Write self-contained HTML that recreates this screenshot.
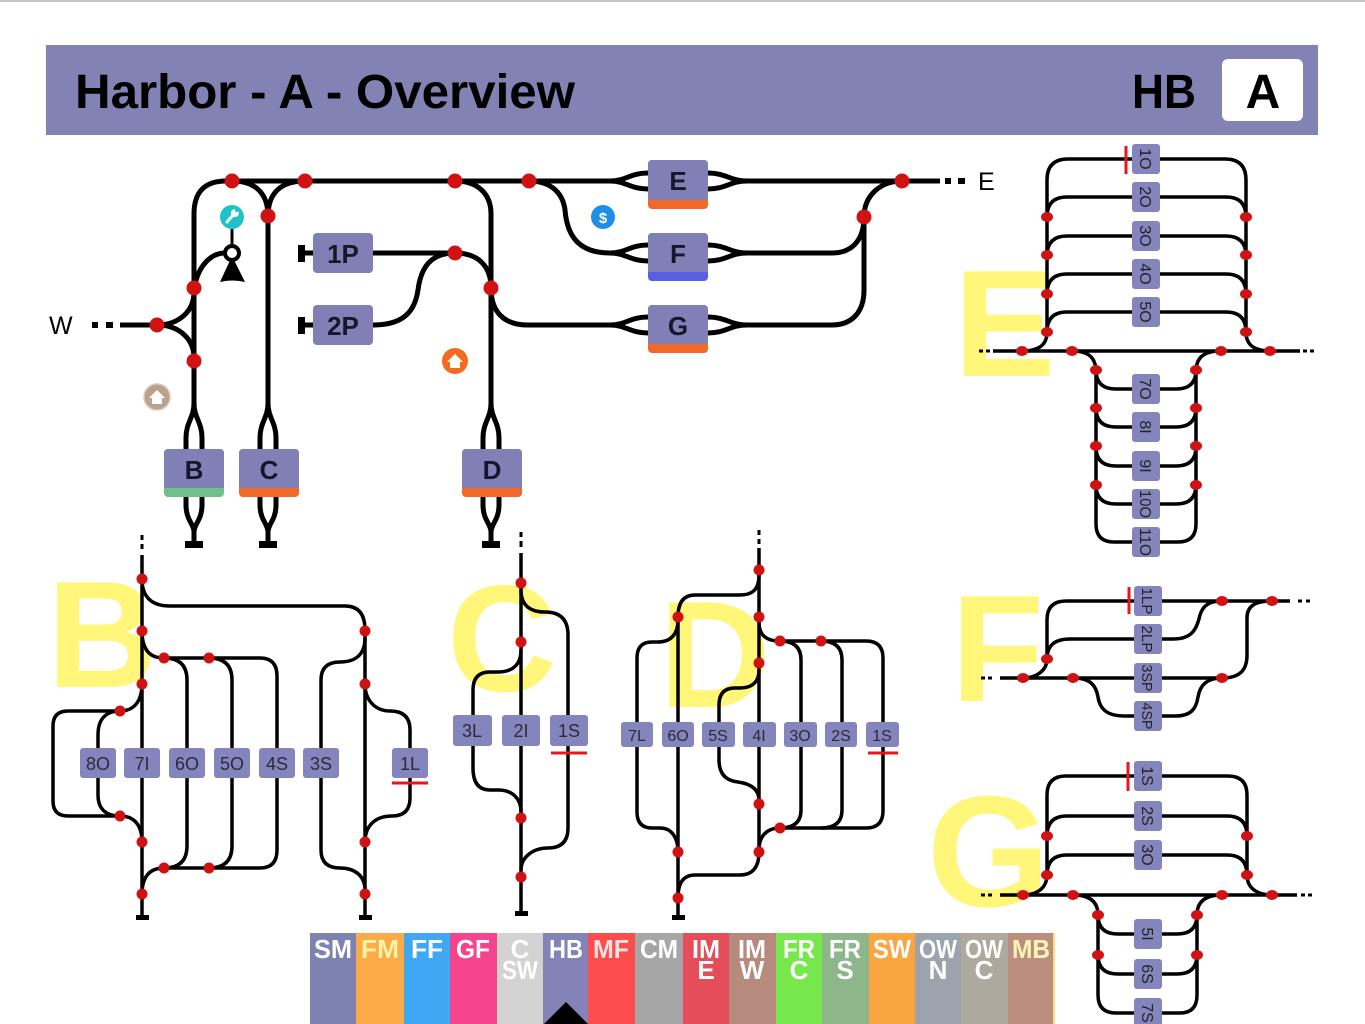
<!DOCTYPE html>
<html><head><meta charset="utf-8">
<style>
html,body{margin:0;padding:0;background:#fff;}
svg{display:block;}
text{font-family:"Liberation Sans",sans-serif;}
</style></head><body>
<svg width="1365" height="1024" viewBox="0 0 1365 1024" xmlns="http://www.w3.org/2000/svg">
<rect x="0" y="0" width="1365" height="1024" fill="#fff"/>
<rect x="0" y="0" width="1365" height="2" fill="#c8c8c8"/>

<!-- Header -->
<rect x="46" y="45" width="1272" height="90" fill="#8282b4"/>
<text x="75" y="108" font-size="48" font-weight="bold" fill="#000" textLength="500" lengthAdjust="spacingAndGlyphs">Harbor - A - Overview</text>
<text x="1132" y="108" font-size="48" font-weight="bold" fill="#000" textLength="64" lengthAdjust="spacingAndGlyphs">HB</text>
<rect x="1222" y="59" width="81" height="62" rx="6" fill="#fff"/>
<text x="1263" y="108" text-anchor="middle" font-size="48" font-weight="bold" fill="#000">A</text>

<!-- Yellow big letters -->
<g fill="#fff67a" font-weight="bold" font-size="152">
<text x="954" y="376">E</text>
<text x="47" y="687">B</text>
<text x="447" y="691">C</text>
<text x="659" y="707" textLength="112" lengthAdjust="spacingAndGlyphs">D</text>
<text x="951" y="701">F</text>
<text x="927" y="906" font-size="158">G</text>
</g>

<!-- ============ MAIN DIAGRAM ============ -->
<g stroke="#000" stroke-width="5" fill="none" stroke-linecap="butt">
<path d="M194,403 V214 Q194,181 226,181 H610"/>
<path d="M610,181 C626,181 630,173 648,173"/>
<path d="M610,181 C626,181 630,189 648,189"/>
<path d="M708,173 C726,173 730,181 747,181 H940"/>
<path d="M708,189 C726,189 730,181 747,181"/>
<path d="M232,181 C256,181 268,194 268,216 V403"/>
<path d="M305,181 C280,181 268,194 268,216"/>
<path d="M455,181 C478,181 491,194 491,214 V403"/>
<path d="M529,181 C552,181 563,194 565,210 C567,235 578,253 610,253"/>
<path d="M610,253 C626,253 630,245 648,245"/>
<path d="M610,253 C626,253 630,261 648,261"/>
<path d="M708,245 C726,245 730,253 747,253"/>
<path d="M708,261 C726,261 730,253 747,253"/>
<path d="M747,253 H832 C852,253 864,240 864,217"/>
<path d="M864,217 C864,196 880,181 902,181"/>
<path d="M864,217 V290 C864,312 852,325 832,325 H747"/>
<path d="M610,325 C626,325 630,317 648,317"/>
<path d="M610,325 C626,325 630,333 648,333"/>
<path d="M708,317 C726,317 730,325 747,325"/>
<path d="M708,333 C726,333 730,325 747,325"/>
<path d="M491,288 C491,310 502,325 528,325 H610"/>
<path d="M373,253 H455"/>
<path d="M455,253 C478,253 491,266 491,288"/>
<path d="M373,325 C405,325 415,310 418,290 C421,266 432,253 455,253"/>
<path d="M120,325 H157"/>
<path d="M157,325 C178,325 194,312 194,292"/>
<path d="M157,325 C178,325 194,338 194,358"/>
<path d="M194,292 C196,268 210,253 225,253"/>
<path d="M305,253 H313"/>
<path d="M305,325 H313"/>
<!-- lenses B C D -->
<path d="M194,403 C194,418 186,422 186,438 V450"/>
<path d="M194,403 C194,418 202,422 202,438 V450"/>
<path d="M186,496 V505 C186,520 194,524 194,532 V543"/>
<path d="M202,496 V505 C202,520 194,524 194,532"/>
<path d="M268,403 C268,418 260,422 260,438 V450"/>
<path d="M268,403 C268,418 276,422 276,438 V450"/>
<path d="M260,496 V505 C260,520 268,524 268,532 V543"/>
<path d="M276,496 V505 C276,520 268,524 268,532"/>
<path d="M491,403 C491,418 483,422 483,438 V450"/>
<path d="M491,403 C491,418 499,422 499,438 V450"/>
<path d="M483,496 V505 C483,520 491,524 491,532 V543"/>
<path d="M499,496 V505 C499,520 491,524 491,532"/>
</g>
<!-- T ends main -->
<rect x="185" y="541" width="18" height="7" fill="#000"/>
<rect x="259" y="541" width="18" height="7" fill="#000"/>
<rect x="482" y="541" width="18" height="7" fill="#000"/>
<!-- bumpers 1P 2P -->
<rect x="298" y="245" width="7" height="17" fill="#000"/>
<rect x="298" y="317" width="7" height="17" fill="#000"/>
<!-- buffer circle -->
<line x1="232" y1="246" x2="232" y2="229" stroke="#000" stroke-width="3"/>
<path d="M232,256 L220,282 Q232,279 245,282 Z" fill="#000"/>
<circle cx="232" cy="253" r="7" fill="#fff" stroke="#000" stroke-width="4"/>
<!-- W / E dashes -->
<rect x="92" y="322" width="6" height="6" fill="#000"/>
<rect x="106" y="322" width="7" height="6" fill="#000"/>
<rect x="945" y="178" width="6" height="6" fill="#000"/>
<rect x="958" y="178" width="7" height="6" fill="#000"/>
<text x="49" y="334" font-size="25" fill="#000">W</text>
<text x="978" y="190" font-size="25" fill="#000">E</text>

<!-- main red dots -->
<g fill="#d01212">
<circle cx="232" cy="181" r="7.5"/><circle cx="305" cy="181" r="7.5"/>
<circle cx="455" cy="181" r="7.5"/><circle cx="529" cy="181" r="7.5"/>
<circle cx="902" cy="181" r="7.5"/><circle cx="268" cy="216" r="7.5"/>
<circle cx="864" cy="217" r="7.5"/><circle cx="455" cy="253" r="7.5"/>
<circle cx="491" cy="288" r="7.5"/><circle cx="194" cy="288" r="7.5"/>
<circle cx="157" cy="325" r="7.5"/><circle cx="194" cy="361" r="7.5"/>
</g>

<!-- main boxes -->
<g font-size="26" font-weight="bold" fill="#16162a" text-anchor="middle">
<rect x="164" y="449" width="60" height="48" rx="4" fill="#70c08c"/><rect x="164" y="449" width="60" height="39" rx="4" fill="#8080b6"/><rect x="164" y="480" width="60" height="8" fill="#8080b6"/>
<text x="194" y="479">B</text>
<rect x="239" y="449" width="60" height="48" rx="4" fill="#f06a2a"/><rect x="239" y="449" width="60" height="39" rx="4" fill="#8080b6"/><rect x="239" y="480" width="60" height="8" fill="#8080b6"/>
<text x="269" y="479">C</text>
<rect x="462" y="449" width="60" height="48" rx="4" fill="#f06a2a"/><rect x="462" y="449" width="60" height="39" rx="4" fill="#8080b6"/><rect x="462" y="480" width="60" height="8" fill="#8080b6"/>
<text x="492" y="479">D</text>
<rect x="648" y="160" width="60" height="49" rx="4" fill="#f06a2a"/><rect x="648" y="160" width="60" height="40" rx="4" fill="#8080b6"/><rect x="648" y="192" width="60" height="8" fill="#8080b6"/>
<text x="678" y="190">E</text>
<rect x="648" y="233" width="60" height="48" rx="4" fill="#5a5ee0"/><rect x="648" y="233" width="60" height="39" rx="4" fill="#8080b6"/><rect x="648" y="264" width="60" height="8" fill="#8080b6"/>
<text x="678" y="263">F</text>
<rect x="648" y="305" width="60" height="48" rx="4" fill="#f06a2a"/><rect x="648" y="305" width="60" height="39" rx="4" fill="#8080b6"/><rect x="648" y="336" width="60" height="8" fill="#8080b6"/>
<text x="678" y="335">G</text>
<rect x="313" y="233" width="60" height="40" rx="4" fill="#8080b6"/>
<text x="343" y="263">1P</text>
<rect x="313" y="305" width="60" height="40" rx="4" fill="#8080b6"/>
<text x="343" y="335">2P</text>
</g>

<!-- icons -->
<circle cx="232" cy="217" r="12" fill="#1ec2c8"/>
<circle cx="235" cy="213" r="4" fill="#fff"/>
<circle cx="237" cy="210" r="2" fill="#1ec2c8"/>
<line x1="234" y1="214" x2="227" y2="222" stroke="#fff" stroke-width="3" stroke-linecap="round"/>
<circle cx="157" cy="397" r="13" fill="#b9a38e" stroke="#d8c9b8" stroke-width="1.5"/>
<polygon points="149,398 157,390 165,398 162,398 162,404 152,404 152,398" fill="#fff"/>
<circle cx="455" cy="361" r="13" fill="#f26b21"/>
<polygon points="447,362 455,354 463,362 460,362 460,368 450,368 450,362" fill="#fff"/>
<circle cx="603" cy="217" r="12" fill="#1f8ee6"/>
<text x="603" y="223" text-anchor="middle" font-size="15" font-weight="bold" fill="#fff">$</text>

<!-- ============ E SECTION ============ -->
<g stroke="#000" stroke-width="3.5" fill="none">
<path d="M1047,336 V180 Q1047,159 1068,159 H1225 Q1246,159 1246,180 V336"/>
<path d="M1047,217 Q1047,197 1067,197 H1226 Q1246,197 1246,217"/>
<path d="M1047,256 Q1047,236 1067,236 H1226 Q1246,236 1246,256"/>
<path d="M1047,294 Q1047,274 1067,274 H1226 Q1246,274 1246,294"/>
<path d="M1047,332 Q1047,312 1067,312 H1226 Q1246,312 1246,332"/>
<path d="M1047,332 C1047,347 1036,351 1022,351"/>
<path d="M1246,332 C1246,347 1257,351 1271,351"/>
<path d="M993,351 H1300"/>
<path d="M1072,351 C1089,351 1096,358 1096,372 V524 Q1096,542 1114,542 H1178 Q1196,542 1196,524 V372 C1196,358 1203,351 1221,351"/>
<path d="M1096,370 Q1096,389 1116,389 H1176 Q1196,389 1196,370"/>
<path d="M1096,408 Q1096,427 1116,427 H1176 Q1196,427 1196,408"/>
<path d="M1096,447 Q1096,466 1116,466 H1176 Q1196,466 1196,447"/>
<path d="M1096,485 Q1096,504 1116,504 H1176 Q1196,504 1196,485"/>
</g>
<g fill="#000">
<rect x="979" y="349.5" width="4" height="3"/><rect x="986" y="349.5" width="4" height="3"/>
<rect x="1303" y="349.5" width="4" height="3"/><rect x="1310" y="349.5" width="4" height="3"/>
</g>
<line x1="1126" y1="146" x2="1126" y2="174" stroke="#e8161b" stroke-width="3"/>
<g fill="#d01212">
<ellipse cx="1047" cy="217" rx="6" ry="5"/><ellipse cx="1047" cy="255" rx="6" ry="5"/><ellipse cx="1047" cy="294" rx="6" ry="5"/><ellipse cx="1047" cy="332" rx="6" ry="5"/>
<ellipse cx="1246" cy="217" rx="6" ry="5"/><ellipse cx="1246" cy="255" rx="6" ry="5"/><ellipse cx="1246" cy="294" rx="6" ry="5"/><ellipse cx="1246" cy="332" rx="6" ry="5"/>
<ellipse cx="1022" cy="351" rx="6" ry="5"/><ellipse cx="1072" cy="351" rx="6" ry="5"/><ellipse cx="1221" cy="351" rx="6" ry="5"/><ellipse cx="1270" cy="351" rx="6" ry="5"/>
<ellipse cx="1096" cy="370" rx="6" ry="5"/><ellipse cx="1096" cy="408" rx="6" ry="5"/><ellipse cx="1096" cy="446" rx="6" ry="5"/><ellipse cx="1096" cy="485" rx="6" ry="5"/>
<ellipse cx="1196" cy="370" rx="6" ry="5"/><ellipse cx="1196" cy="408" rx="6" ry="5"/><ellipse cx="1196" cy="446" rx="6" ry="5"/><ellipse cx="1196" cy="485" rx="6" ry="5"/>
</g>
<g fill="#8585bd">
<rect x="1132" y="144" width="28" height="30" rx="3"/><rect x="1132" y="182" width="28" height="30" rx="3"/>
<rect x="1132" y="221" width="28" height="30" rx="3"/><rect x="1132" y="259" width="28" height="30" rx="3"/>
<rect x="1132" y="297" width="28" height="30" rx="3"/><rect x="1132" y="374" width="28" height="30" rx="3"/>
<rect x="1132" y="412" width="28" height="30" rx="3"/><rect x="1132" y="451" width="28" height="30" rx="3"/>
<rect x="1132" y="489" width="28" height="30" rx="3"/><rect x="1132" y="527" width="28" height="30" rx="3"/>
</g>
<g font-size="16" fill="#222" text-anchor="middle">
<text transform="translate(1140,159) rotate(90)">1O</text>
<text transform="translate(1140,197) rotate(90)">2O</text>
<text transform="translate(1140,236) rotate(90)">3O</text>
<text transform="translate(1140,274) rotate(90)">4O</text>
<text transform="translate(1140,312) rotate(90)">5O</text>
<text transform="translate(1140,389) rotate(90)">7O</text>
<text transform="translate(1140,427) rotate(90)">8I</text>
<text transform="translate(1140,466) rotate(90)">9I</text>
<text transform="translate(1140,504) rotate(90)" textLength="28" lengthAdjust="spacingAndGlyphs">10O</text>
<text transform="translate(1140,542) rotate(90)" textLength="28" lengthAdjust="spacingAndGlyphs">11O</text>
</g>

<!-- ============ F SECTION ============ -->
<g stroke="#000" stroke-width="3.5" fill="none">
<path d="M1047,659 V620 Q1047,601 1066,601 H1290"/>
<path d="M1047,659 C1047,645 1055,639 1070,639 H1173 C1193,639 1197,628 1200,615 C1203,605 1210,601 1222,601"/>
<path d="M1000,678 H1222 C1240,678 1247,670 1247,655 V618 C1247,606 1255,601 1272,601"/>
<path d="M1023,678 C1037,678 1047,670 1047,659"/>
<path d="M1073,678 C1090,678 1096,685 1098,697 C1100,710 1108,716 1125,716 H1175 C1190,716 1196,710 1198,697 C1200,685 1207,678 1222,678"/>
</g>
<g fill="#000">
<rect x="981" y="676.5" width="4" height="3"/><rect x="988" y="676.5" width="4" height="3"/>
<rect x="1298" y="599.5" width="4" height="3"/><rect x="1306" y="599.5" width="4" height="3"/>
</g>
<line x1="1129" y1="587" x2="1129" y2="614" stroke="#e8161b" stroke-width="3"/>
<g fill="#d01212">
<ellipse cx="1047" cy="659" rx="6" ry="5"/><ellipse cx="1023" cy="678" rx="6" ry="5"/>
<ellipse cx="1073" cy="678" rx="6" ry="5"/><ellipse cx="1222" cy="601" rx="6" ry="5"/>
<ellipse cx="1272" cy="601" rx="6" ry="5"/><ellipse cx="1222" cy="678" rx="6" ry="5"/>
</g>
<g fill="#8585bd">
<rect x="1134" y="586" width="28" height="30" rx="3"/><rect x="1134" y="624" width="28" height="30" rx="3"/>
<rect x="1134" y="663" width="28" height="30" rx="3"/><rect x="1134" y="701" width="28" height="30" rx="3"/>
</g>
<g font-size="15" fill="#222" text-anchor="middle">
<text transform="translate(1142,601) rotate(90)" textLength="27" lengthAdjust="spacingAndGlyphs">1LP</text>
<text transform="translate(1142,639) rotate(90)" textLength="27" lengthAdjust="spacingAndGlyphs">2LP</text>
<text transform="translate(1142,678) rotate(90)" textLength="27" lengthAdjust="spacingAndGlyphs">3SP</text>
<text transform="translate(1142,716) rotate(90)" textLength="27" lengthAdjust="spacingAndGlyphs">4SP</text>
</g>

<!-- ============ G SECTION ============ -->
<g stroke="#000" stroke-width="3.5" fill="none">
<path d="M1047,875 V795 Q1047,776 1066,776 H1228 Q1247,776 1247,795 V875"/>
<path d="M1047,836 Q1047,816 1067,816 H1227 Q1247,816 1247,836"/>
<path d="M1047,875 Q1047,855 1067,855 H1227 Q1247,855 1247,875"/>
<path d="M1047,875 C1047,888 1037,895 1023,895"/>
<path d="M1247,875 C1247,888 1257,895 1272,895"/>
<path d="M1000,895 H1297"/>
<path d="M1073,895 C1090,895 1098,902 1098,915 V995 Q1098,1013 1116,1013 H1180 Q1197,1013 1197,995 V915 C1197,902 1205,895 1222,895"/>
<path d="M1098,915 Q1098,934 1118,934 H1177 Q1197,934 1197,915"/>
<path d="M1098,955 Q1098,974 1118,974 H1177 Q1197,974 1197,955"/>
</g>
<g fill="#000">
<rect x="981" y="893.5" width="4" height="3"/><rect x="988" y="893.5" width="4" height="3"/>
<rect x="1301" y="893.5" width="4" height="3"/><rect x="1308" y="893.5" width="4" height="3"/>
</g>
<line x1="1128" y1="762" x2="1128" y2="791" stroke="#e8161b" stroke-width="3"/>
<g fill="#d01212">
<ellipse cx="1047" cy="836" rx="6" ry="5"/><ellipse cx="1047" cy="875" rx="6" ry="5"/>
<ellipse cx="1247" cy="836" rx="6" ry="5"/><ellipse cx="1247" cy="875" rx="6" ry="5"/>
<ellipse cx="1023" cy="895" rx="6" ry="5"/><ellipse cx="1073" cy="895" rx="6" ry="5"/>
<ellipse cx="1222" cy="895" rx="6" ry="5"/><ellipse cx="1272" cy="895" rx="6" ry="5"/>
<ellipse cx="1098" cy="915" rx="6" ry="5"/><ellipse cx="1197" cy="915" rx="6" ry="5"/>
<ellipse cx="1098" cy="955" rx="6" ry="5"/><ellipse cx="1197" cy="955" rx="6" ry="5"/>
</g>
<g fill="#8585bd">
<rect x="1134" y="761" width="28" height="30" rx="3"/><rect x="1134" y="801" width="28" height="30" rx="3"/>
<rect x="1134" y="840" width="28" height="30" rx="3"/><rect x="1134" y="919" width="28" height="30" rx="3"/>
<rect x="1134" y="959" width="28" height="30" rx="3"/><rect x="1134" y="998" width="28" height="30" rx="3"/>
</g>
<g font-size="16" fill="#222" text-anchor="middle">
<text transform="translate(1142,776) rotate(90)">1S</text>
<text transform="translate(1142,816) rotate(90)">2S</text>
<text transform="translate(1142,855) rotate(90)">3O</text>
<text transform="translate(1142,934) rotate(90)">5I</text>
<text transform="translate(1142,974) rotate(90)">6S</text>
<text transform="translate(1142,1013) rotate(90)">7S</text>
</g>

<!-- ============ B SECTION ============ -->
<g stroke="#000" stroke-width="3.5" fill="none">
<path d="M142,555 V916"/>
<path d="M142,579 C142,600 155,606 170,606 H345 Q365,606 365,630 V916"/>
<path d="M142,631 C142,650 150,658 164,658 H260 Q277,658 277,676 V850 Q277,868 260,868 H164 C150,868 142,876 142,894"/>
<path d="M164,658 Q187,658 187,680 V846 Q187,868 164,868"/>
<path d="M209,658 Q232,658 232,680 V846 Q232,868 209,868"/>
<path d="M365,638 C365,655 355,662 340,662 Q321,662 321,680 V850 Q321,868 340,868 C355,868 365,876 365,890"/>
<path d="M365,684 C365,700 375,711 390,711 Q410,711 410,730 V798 Q410,816 392,816 C375,816 365,826 365,842"/>
<path d="M142,684 C142,700 135,711 120,711"/>
<path d="M120,711 H68 Q53,711 53,726 V801 Q53,816 68,816 H120"/>
<path d="M120,711 C105,711 98,720 98,735 V795 C98,808 105,816 120,816"/>
<path d="M120,816 C135,816 142,826 142,842"/>
</g>
<g fill="#000">
<rect x="140.5" y="535" width="3" height="5"/><rect x="140.5" y="544" width="3" height="5"/>
<rect x="136" y="915" width="13" height="5"/><rect x="359" y="915" width="13" height="5"/>
</g>
<g fill="#d01212">
<circle cx="142" cy="579" r="5.5"/><circle cx="142" cy="631" r="5.5"/><circle cx="142" cy="684" r="5.5"/>
<circle cx="142" cy="842" r="5.5"/><circle cx="142" cy="894" r="5.5"/>
<circle cx="365" cy="631" r="5.5"/><circle cx="365" cy="684" r="5.5"/><circle cx="365" cy="842" r="5.5"/><circle cx="365" cy="894" r="5.5"/>
<circle cx="164" cy="658" r="5.5"/><circle cx="209" cy="658" r="5.5"/><circle cx="164" cy="868" r="5.5"/><circle cx="209" cy="868" r="5.5"/>
<circle cx="120" cy="711" r="5.5"/><circle cx="120" cy="816" r="5.5"/>
</g>
<g fill="#8585bd">
<rect x="80" y="748" width="36" height="30" rx="3"/><rect x="124" y="748" width="36" height="30" rx="3"/>
<rect x="169" y="748" width="36" height="30" rx="3"/><rect x="214" y="748" width="36" height="30" rx="3"/>
<rect x="259" y="748" width="36" height="30" rx="3"/><rect x="303" y="748" width="36" height="30" rx="3"/>
<rect x="392" y="748" width="36" height="30" rx="3"/>
</g>
<g font-size="18" fill="#2a2a3a" text-anchor="middle">
<text x="98" y="770">8O</text><text x="142" y="770">7I</text><text x="187" y="770">6O</text>
<text x="232" y="770">5O</text><text x="277" y="770">4S</text><text x="321" y="770">3S</text>
<text x="410" y="770">1L</text>
</g>
<line x1="392" y1="783" x2="428" y2="783" stroke="#e8161b" stroke-width="3"/>

<!-- ============ C SECTION ============ -->
<g stroke="#000" stroke-width="3.5" fill="none">
<path d="M521,553 V912"/>
<path d="M521,590 C521,605 530,612 545,612 Q568,612 568,635 V828 Q568,848 548,848 C532,848 521,858 521,870"/>
<path d="M521,650 C521,665 512,672 498,672 H490 Q473,672 473,690 V768 Q473,790 490,790 H498 C512,790 521,798 521,812"/>
</g>
<g fill="#000">
<rect x="519.5" y="532" width="3" height="5"/><rect x="519.5" y="541" width="3" height="6"/>
<rect x="515" y="911" width="13" height="5"/>
</g>
<g fill="#d01212">
<circle cx="521" cy="583" r="5.5"/><circle cx="521" cy="642" r="5.5"/>
<circle cx="521" cy="818" r="5.5"/><circle cx="521" cy="877" r="5.5"/>
</g>
<g fill="#8585bd">
<rect x="453" y="715" width="39" height="31" rx="3"/><rect x="502" y="715" width="38" height="31" rx="3"/>
<rect x="550" y="715" width="38" height="31" rx="3"/>
</g>
<g font-size="18" fill="#2a2a3a" text-anchor="middle">
<text x="472" y="737">3L</text><text x="521" y="737">2I</text><text x="569" y="737">1S</text>
</g>
<line x1="551" y1="753" x2="587" y2="753" stroke="#e8161b" stroke-width="3"/>

<!-- ============ D SECTION ============ -->
<g stroke="#000" stroke-width="3.5" fill="none">
<path d="M759,548 V852"/>
<path d="M759,575 C759,590 752,595 740,595 H695 C684,595 678,602 678,617 V916"/>
<path d="M678,620 C678,635 670,642 658,642 H652 Q637,642 637,658 V812 Q637,828 652,828 H660 C672,828 678,838 678,852"/>
<path d="M759,622 C759,635 766,641 780,641 H866 Q883,641 883,658 V811 Q883,828 866,828 H780 C767,828 759,836 759,850"/>
<path d="M780,641 Q801,641 801,660 V810 Q801,828 780,828"/>
<path d="M821,641 Q842,641 842,660 V810 Q842,828 821,828"/>
<path d="M759,670 C759,682 752,688 740,688 H735 Q719,688 719,705 V760 Q719,780 738,782 C752,784 759,790 759,800"/>
<path d="M759,852 C759,868 752,875 740,875 H695 C684,875 678,882 678,898"/>
</g>
<g fill="#000">
<rect x="757.5" y="530" width="3" height="5"/><rect x="757.5" y="539" width="3" height="5"/>
<rect x="672" y="915" width="13" height="5"/>
</g>
<g fill="#d01212">
<circle cx="759" cy="570" r="5.5"/><circle cx="759" cy="617" r="5.5"/><circle cx="759" cy="663" r="5.5"/>
<circle cx="759" cy="804" r="5.5"/><circle cx="759" cy="852" r="5.5"/>
<circle cx="678" cy="617" r="5.5"/><circle cx="678" cy="852" r="5.5"/><circle cx="678" cy="898" r="5.5"/>
<circle cx="780" cy="641" r="5.5"/><circle cx="821" cy="641" r="5.5"/><circle cx="780" cy="828" r="5.5"/>
</g>
<g fill="#8585bd">
<rect x="621" y="722" width="32" height="25" rx="3"/><rect x="662" y="722" width="32" height="25" rx="3"/>
<rect x="702" y="722" width="33" height="25" rx="3"/><rect x="743" y="722" width="33" height="25" rx="3"/>
<rect x="784" y="722" width="33" height="25" rx="3"/><rect x="825" y="722" width="32" height="25" rx="3"/>
<rect x="866" y="722" width="33" height="25" rx="3"/>
</g>
<g font-size="16" fill="#2a2a3a" text-anchor="middle">
<text x="637" y="741">7L</text><text x="678" y="741">6O</text><text x="718" y="741">5S</text>
<text x="759" y="741">4I</text><text x="800" y="741">3O</text><text x="841" y="741">2S</text>
<text x="882" y="741">1S</text>
</g>
<line x1="868" y1="753" x2="898" y2="753" stroke="#e8161b" stroke-width="3"/>

<!-- ============ TAB BAR ============ -->
<g>
<rect x="310" y="933" width="46" height="91" fill="#7d82b0"/>
<rect x="356" y="933" width="48" height="91" fill="#fbab48"/>
<rect x="404" y="933" width="46" height="91" fill="#3ea8f5"/>
<rect x="450" y="933" width="47" height="91" fill="#f5438e"/>
<rect x="497" y="933" width="46" height="91" fill="#d3d3d3"/>
<rect x="543" y="933" width="45" height="91" fill="#8383b8"/>
<rect x="588" y="933" width="47" height="91" fill="#fd4c4c"/>
<rect x="635" y="933" width="48" height="91" fill="#a6a6a6"/>
<rect x="683" y="933" width="46" height="91" fill="#e64d5b"/>
<rect x="729" y="933" width="47" height="91" fill="#b68a7c"/>
<rect x="776" y="933" width="46" height="91" fill="#76e84c"/>
<rect x="822" y="933" width="47" height="91" fill="#8db68b"/>
<rect x="869" y="933" width="46" height="91" fill="#fba541"/>
<rect x="915" y="933" width="46" height="91" fill="#9da3ac"/>
<rect x="961" y="933" width="47" height="91" fill="#aea99f"/>
<rect x="1008" y="933" width="46" height="91" fill="#bc8e80"/>
<rect x="1053" y="933" width="2" height="91" fill="#f3e27a"/>
</g>
<g font-size="26" font-weight="bold" text-anchor="middle" fill="#fff">
<text x="333" y="958" textLength="38" lengthAdjust="spacingAndGlyphs">SM</text>
<text x="380" y="958" fill="#fff3a8" textLength="38" lengthAdjust="spacingAndGlyphs">FM</text>
<text x="427" y="958" textLength="32" lengthAdjust="spacingAndGlyphs">FF</text>
<text x="473" y="958" textLength="34" lengthAdjust="spacingAndGlyphs">GF</text>
<text x="520" y="958">C</text><text x="520" y="979" textLength="36" lengthAdjust="spacingAndGlyphs">SW</text>
<text x="566" y="958" textLength="34" lengthAdjust="spacingAndGlyphs">HB</text>
<text x="611" y="958" fill="#ffe3e3" textLength="36" lengthAdjust="spacingAndGlyphs">MF</text>
<text x="659" y="958" textLength="38" lengthAdjust="spacingAndGlyphs">CM</text>
<text x="706" y="958" textLength="28" lengthAdjust="spacingAndGlyphs">IM</text><text x="706" y="979">E</text>
<text x="752" y="958" textLength="28" lengthAdjust="spacingAndGlyphs">IM</text><text x="752" y="979">W</text>
<text x="799" y="958" textLength="32" lengthAdjust="spacingAndGlyphs">FR</text><text x="799" y="979">C</text>
<text x="845" y="958" textLength="32" lengthAdjust="spacingAndGlyphs">FR</text><text x="845" y="979">S</text>
<text x="892" y="958" textLength="38" lengthAdjust="spacingAndGlyphs">SW</text>
<text x="938" y="958" textLength="38" lengthAdjust="spacingAndGlyphs">OW</text><text x="938" y="979">N</text>
<text x="984" y="958" textLength="38" lengthAdjust="spacingAndGlyphs">OW</text><text x="984" y="979">C</text>
<text x="1031" y="958" fill="#fff5b5" textLength="38" lengthAdjust="spacingAndGlyphs">MB</text>
</g>
<polygon points="544,1024 566,1002 588,1024" fill="#000"/>
</svg>
</body></html>
